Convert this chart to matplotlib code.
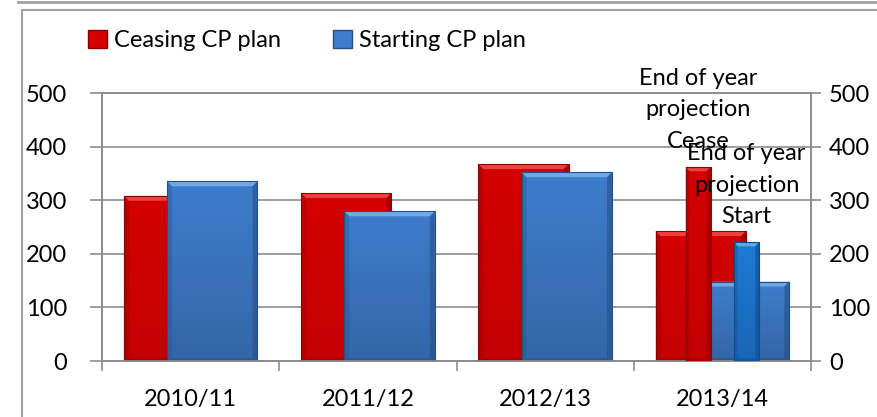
import matplotlib.pyplot as plt
import matplotlib.patches as mpatches
from matplotlib.patches import Polygon
from matplotlib.colors import LinearSegmentedColormap
import numpy as np

plt.rcParams['font.family'] = ['Lato', 'DejaVu Sans']

# --- data ---
years = ['2010/11', '2011/12', '2012/13', '2013/14']
ceasing = [308, 313, 367, 242]
starting = [335, 279, 352, 148]
proj_labels = ['End of year\nprojection\nCease', 'End of year\nprojection\nStart']
proj_values = [362, 222]

RED = ('#D40000', '#C40000', '#F04848', '#8A0000')      # top, bottom, highlight, shade
BLUE = ('#3E7DCB', '#3466A8', '#79AEEB', '#234E86')
BLUE2 = ('#1E7BD6', '#1A66B4', '#5FB2F4', '#0F4A88')
GRID = '#8C8C8C'
FS = 17


def bevel_bar(ax, x, h, w, cols, bx, by, z):
    # body with vertical gradient, lighter top bevel and darker side/bottom bevels
    top, bot, hi, lo = cols
    x0, x1 = x - w / 2, x + w / 2
    body = mpatches.Rectangle((x0, 0), w, h, facecolor='none', edgecolor=lo,
                              linewidth=0.8, zorder=z + 0.2)
    ax.add_patch(body)
    cmap = LinearSegmentedColormap.from_list('g', [bot, top])
    grad = np.linspace(0, 1, 64).reshape(-1, 1)
    im = ax.imshow(grad, cmap=cmap, aspect='auto', origin='lower',
                   extent=(x0, x1, 0, h), zorder=z, interpolation='bilinear')
    im.set_clip_path(body)
    polys = [
        ([(x0, h), (x1, h), (x1 - bx, h - by), (x0 + bx, h - by)], hi, 0.9),
        ([(x1, h), (x1, 0), (x1 - bx, by * 0.6), (x1 - bx, h - by)], lo, 0.55),
        ([(x0, h), (x0, 0), (x0 + bx, by * 0.6), (x0 + bx, h - by)], lo, 0.3),
        ([(x0, 0), (x1, 0), (x1 - bx, by * 0.6), (x0 + bx, by * 0.6)], lo, 0.5),
    ]
    for pts, c, a in polys:
        ax.add_patch(Polygon(pts, closed=True, facecolor=c, edgecolor='none',
                             alpha=a, zorder=z + 0.1))


fig = plt.figure(figsize=(8.77, 4.17), dpi=100)
ax = fig.add_axes([102 / 877, 56 / 417, 709 / 877, 268 / 417])
ax2 = ax.twinx()

x = np.arange(len(years))
w = 0.51
off = 0.122
bx, by = 0.028, 9
for i in range(len(years)):
    bevel_bar(ax, x[i] - off, ceasing[i], w, RED, bx, by, 3)
    bevel_bar(ax, x[i] + off, starting[i], w, BLUE, bx, by, 4)

# projection bars on the secondary axis (last year only)
nw = 0.142
noff = 0.137
px = [x[-1] - noff, x[-1] + noff]
bevel_bar(ax2, px[0], proj_values[0], nw, RED, 0.022, 8, 3)
bevel_bar(ax2, px[1], proj_values[1], nw, BLUE2, 0.022, 8, 4)
for xp, v, lab in zip(px, proj_values, proj_labels):
    ax2.annotate(lab, (xp, v), xytext=(0, 11), textcoords='offset points',
                 ha='center', va='bottom', fontsize=FS, linespacing=1.6, zorder=6)

for a in (ax, ax2):
    a.set_ylim(0, 500)
    a.set_xlim(-0.5, 3.5)
    a.set_yticks([0, 100, 200, 300, 400, 500])

ax.yaxis.grid(True, color=GRID, linewidth=1.2)
ax.set_axisbelow(True)
ax.set_xticks(x)
ax.set_xticklabels(years, fontsize=FS)
ax.set_xticks(np.arange(-0.5, 4, 1), minor=True)
ax.tick_params(axis='x', which='major', length=0, pad=20)
ax.tick_params(axis='x', which='minor', length=7, color=GRID, width=1.2)
ax.tick_params(axis='y', labelsize=FS, length=9, color=GRID, width=1.2, pad=16)
ax2.tick_params(axis='y', labelsize=FS, length=7, color=GRID, width=1.2, pad=6)
for a in (ax, ax2):
    for s in a.spines.values():
        s.set_color(GRID)
        s.set_linewidth(1.2)

handles = [mpatches.Patch(facecolor=RED[0], edgecolor=RED[3], label='Ceasing CP plan'),
           mpatches.Patch(facecolor=BLUE[0], edgecolor=BLUE[3], label='Starting CP plan')]
fig.legend(handles=handles, loc='upper left', bbox_to_anchor=(88 / 877, 1 - 30 / 417),
           ncol=2, frameon=False, fontsize=FS, handlelength=0.8, handleheight=0.8,
           handletextpad=0.3, columnspacing=2.2, borderpad=0, borderaxespad=0)

# outer frame lines
fig.add_artist(plt.Line2D([18 / 877, 1], [1 - 1.5 / 417] * 2, color='#A0A0A0', lw=2))
fig.add_artist(plt.Line2D([22 / 877, 22 / 877, 1], [0, 1 - 10 / 417, 1 - 10 / 417],
                          color='#A0A0A0', lw=1.5))

fig.savefig('out.png', dpi=100)
